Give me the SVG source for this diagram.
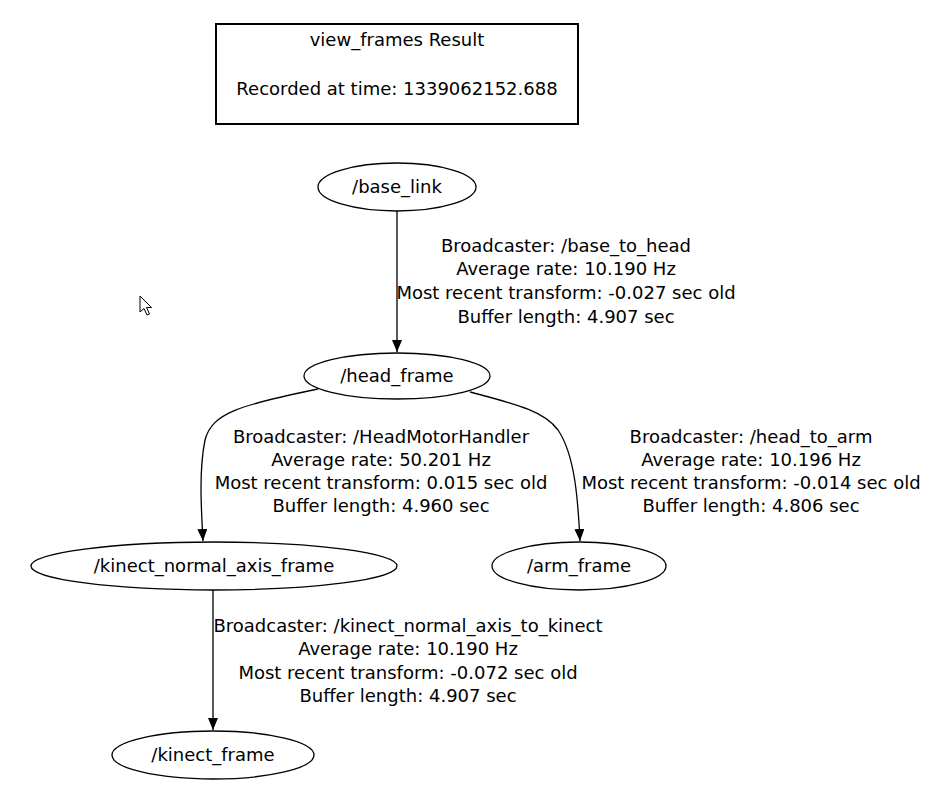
<svg xmlns="http://www.w3.org/2000/svg" width="945" height="809" viewBox="0 0 945 809">
<defs>
<style>
text{font-family:"DejaVu Sans",sans-serif;font-size:18px;fill:#000;text-anchor:middle}
.n{fill:#fff;stroke:#000;stroke-width:1.3}
.e{fill:none;stroke:#000;stroke-width:1.3}
</style>
<marker id="ah" viewBox="0 0 12 10" refX="12" refY="5" markerWidth="12" markerHeight="10" markerUnits="userSpaceOnUse" orient="auto">
<path d="M0,0 L12,5 L0,10 Z" fill="#000"/>
</marker>
</defs>
<rect width="945" height="809" fill="#fff"/>
<g id="title">
<rect x="216" y="24" width="362" height="100" fill="#fff" stroke="#000" stroke-width="2"/>
<text x="397" y="46">view_frames Result</text>
<text x="397" y="95">Recorded at time: 1339062152.688</text>
</g>
<g id="connectors">
<path class="e" d="M397,211 L397,352" marker-end="url(#ah)"/>
<path class="e" d="M318,389 C240,405 212,413 205,440 C199,470 201,505 203,541" marker-end="url(#ah)"/>
<path class="e" d="M470,392 C520,405 545,412 558,430 C575,455 578,500 580,541" marker-end="url(#ah)"/>
<path class="e" d="M213,590 L213,730" marker-end="url(#ah)"/>
</g>
<g id="label_base_to_head">
<text x="566" y="252">Broadcaster: /base_to_head</text>
<text x="566" y="275">Average rate: 10.190 Hz</text>
<text x="566" y="299">Most recent transform: -0.027 sec old</text>
<text x="566" y="323">Buffer length: 4.907 sec</text>
</g>
<g id="label_head_motor">
<text x="381" y="443">Broadcaster: /HeadMotorHandler</text>
<text x="381" y="466">Average rate: 50.201 Hz</text>
<text x="381" y="489">Most recent transform: 0.015 sec old</text>
<text x="381" y="512">Buffer length: 4.960 sec</text>
</g>
<g id="label_head_to_arm">
<text x="751" y="443">Broadcaster: /head_to_arm</text>
<text x="751" y="466">Average rate: 10.196 Hz</text>
<text x="751" y="489">Most recent transform: -0.014 sec old</text>
<text x="751" y="512">Buffer length: 4.806 sec</text>
</g>
<g id="label_kinect">
<text x="408" y="632">Broadcaster: /kinect_normal_axis_to_kinect</text>
<text x="408" y="655">Average rate: 10.190 Hz</text>
<text x="408" y="679">Most recent transform: -0.072 sec old</text>
<text x="408" y="702">Buffer length: 4.907 sec</text>
</g>
<g id="base_link">
<ellipse class="n" cx="397" cy="187" rx="79" ry="24"/>
<text x="397" y="193">/base_link</text>
</g>
<g id="head_frame">
<ellipse class="n" cx="397" cy="376" rx="93" ry="23"/>
<text x="397" y="382">/head_frame</text>
</g>
<g id="kinect_normal_axis_frame">
<ellipse class="n" cx="214" cy="566" rx="183" ry="24"/>
<text x="214" y="572">/kinect_normal_axis_frame</text>
</g>
<g id="arm_frame">
<ellipse class="n" cx="579" cy="566" rx="87" ry="24"/>
<text x="579" y="572">/arm_frame</text>
</g>
<g id="kinect_frame">
<ellipse class="n" cx="213" cy="755" rx="101" ry="24"/>
<text x="213" y="761">/kinect_frame</text>
</g>
<path id="cursor" d="M140,296 L140,312 L144,308.5 L147,315 L149.5,314 L146.5,307.5 L151.5,307.5 Z" fill="#fff" stroke="#000" stroke-width="1"/>
</svg>
